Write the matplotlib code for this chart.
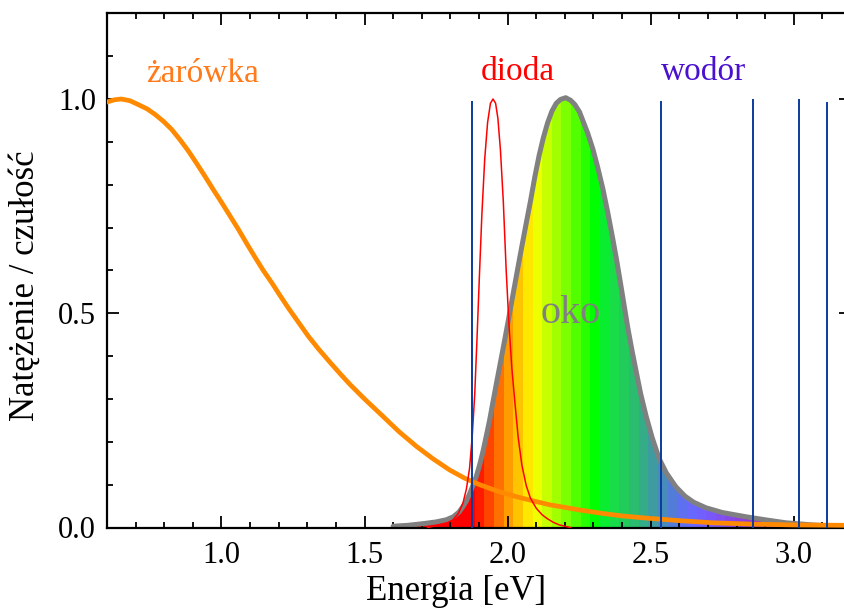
import numpy as np
import matplotlib.pyplot as plt
from matplotlib.patches import Polygon
from matplotlib.colors import ListedColormap
from matplotlib.ticker import MultipleLocator

plt.rcParams['font.family'] = 'Liberation Serif'

# żarówka (incandescent bulb) spectrum
bulb_E = [0.60, 0.625, 0.65, 0.68, 0.709, 0.74, 0.768, 0.797, 0.826, 0.855,
          0.884, 0.913, 0.942, 0.971, 1.001, 1.030, 1.059, 1.088, 1.117, 1.146,
          1.176, 1.205, 1.234, 1.270, 1.304, 1.340, 1.38, 1.42, 1.449, 1.50,
          1.565, 1.62, 1.682, 1.74, 1.798, 1.85, 1.902, 1.96, 2.030, 2.09,
          2.147, 2.20, 2.251, 2.33, 2.40, 2.484, 2.60, 2.716, 2.85, 3.00, 3.20]
bulb_I = [0.993, 0.998, 1.0, 0.996, 0.987, 0.977, 0.964, 0.948, 0.929, 0.905,
          0.879, 0.850, 0.820, 0.789, 0.758, 0.727, 0.696, 0.663, 0.631, 0.600,
          0.571, 0.541, 0.512, 0.478, 0.446, 0.416, 0.385, 0.355, 0.334, 0.300,
          0.259, 0.224, 0.189, 0.160, 0.134, 0.115, 0.100, 0.086, 0.072, 0.062,
          0.053, 0.047, 0.041, 0.033, 0.027, 0.022, 0.016, 0.011, 0.008, 0.006, 0.005]

# dioda (LED) spectrum
led_E = [1.72, 1.763, 1.79, 1.809, 1.828, 1.844, 1.856, 1.867, 1.876, 1.885,
         1.893, 1.901, 1.910, 1.920, 1.930, 1.940, 1.949, 1.958, 1.966, 1.975,
         1.985, 1.995, 2.005, 2.015, 2.025, 2.037, 2.050, 2.065, 2.080, 2.100,
         2.120, 2.140, 2.160, 2.181, 2.22]
led_I = [0.0, 0.006, 0.011, 0.018, 0.033, 0.057, 0.090, 0.138, 0.21, 0.31,
         0.44, 0.58, 0.73, 0.86, 0.945, 0.99, 1.0, 0.99, 0.955, 0.88,
         0.76, 0.60, 0.47, 0.37, 0.295, 0.21, 0.145, 0.098, 0.068, 0.045,
         0.030, 0.020, 0.012, 0.006, 0.0]

# oko (eye sensitivity)
eye_E = [1.60, 1.65, 1.705, 1.75, 1.786, 1.81, 1.83, 1.844, 1.856, 1.868,
         1.880, 1.891, 1.903, 1.914, 1.925, 1.937, 1.948, 1.960, 1.972, 1.984,
         1.996, 2.007, 2.020, 2.035, 2.050, 2.065, 2.080, 2.095, 2.110, 2.125,
         2.140, 2.155, 2.170, 2.185, 2.203, 2.220, 2.235, 2.251, 2.265, 2.280,
         2.298, 2.315, 2.333, 2.350, 2.368, 2.382, 2.395, 2.408, 2.420, 2.435,
         2.449, 2.465, 2.484, 2.505, 2.530, 2.555, 2.588, 2.62, 2.65, 2.693,
         2.75, 2.833, 2.90, 2.972, 3.065, 3.15]
eye_S = [0.003, 0.005, 0.009, 0.013, 0.018, 0.025, 0.036, 0.049, 0.062, 0.080,
         0.100, 0.120, 0.148, 0.178, 0.212, 0.250, 0.290, 0.333, 0.375, 0.417,
         0.460, 0.500, 0.548, 0.603, 0.657, 0.710, 0.762, 0.818, 0.868, 0.910,
         0.945, 0.972, 0.990, 0.999, 1.003, 0.997, 0.987, 0.970, 0.946, 0.920,
         0.883, 0.840, 0.790, 0.735, 0.672, 0.620, 0.568, 0.515, 0.466, 0.412,
         0.365, 0.312, 0.260, 0.210, 0.160, 0.127, 0.095, 0.073, 0.059, 0.046,
         0.035, 0.025, 0.018, 0.011, 0.006, 0.003]

# wodór (hydrogen Balmer lines)
h_E = [1.877, 2.535, 2.856, 3.020, 3.116]
h_top = [0.995, 0.995, 1.0, 1.0, 0.993]

# spectral colour bands under the eye curve
band_colors = ['#ff0000', '#ff1a00', '#ff4400', '#ff7000', '#ff9c00', '#ffc400',
               '#ffe800', '#eeff00', '#c8ff00', '#a2ff00', '#7cff00', '#52ff00',
               '#2aff00', '#00ff00', '#0aec30', '#18dc48', '#22cc5a', '#2cbc70',
               '#34ac88', '#3e9ca0', '#488cbc', '#527cd8', '#5e70f0', '#6868ff',
               '#7060ff', '#7858f8', '#8050f0', '#8848e8', '#9040e0', '#9838d8',
               '#a030d0', '#a828c8']

fig = plt.figure(figsize=(8.44, 6.14), dpi=100)
ax = fig.add_axes([107/844, 86.5/614, 744/844, 514.2/614])

# rainbow fill clipped to the eye curve
edges = np.concatenate([[1.55], 1.885 + 0.0337*np.arange(len(band_colors) - 1), [3.25]])
mesh = ax.pcolormesh(edges, [0, 1.1], np.arange(len(band_colors))[None, :],
                     cmap=ListedColormap(band_colors), shading='flat', zorder=1)
poly = Polygon(list(zip(eye_E, eye_S)) + [(eye_E[-1], 0), (eye_E[0], 0)],
               closed=True, facecolor='none', edgecolor='none')
ax.add_patch(poly)
mesh.set_clip_path(poly)

ax.plot(eye_E, eye_S, color='#808080', lw=3.6, zorder=2, solid_capstyle='round',
        solid_joinstyle='round')
ax.plot(bulb_E, bulb_I, color='#ff8a00', lw=3.4, zorder=3, solid_joinstyle='round')
ax.plot(led_E, led_I, color='#ff0000', lw=1.1, zorder=4)
ax.vlines(h_E, 0, h_top, color='#0b3c9e', lw=1.4, zorder=5)

ax.text(0.934, 1.039, 'żarówka', color='#ff7a1a', fontsize=24, ha='center', va='baseline')
ax.text(2.035, 1.045, 'dioda', color='#ff0000', fontsize=24, ha='center', va='baseline')
ax.text(2.686, 1.045, 'wodór', color='#4a10d0', fontsize=24, ha='center', va='baseline')
ax.text(2.222, 0.477, 'oko', color='#808080', fontsize=29, ha='center', va='baseline', zorder=6)

ax.set_xlim(0.6, 3.2)
ax.set_ylim(0, 1.2)
ax.xaxis.set_major_locator(MultipleLocator(0.5))
ax.xaxis.set_minor_locator(MultipleLocator(0.1))
ax.yaxis.set_major_locator(MultipleLocator(0.5))
ax.yaxis.set_minor_locator(MultipleLocator(0.1))
ax.tick_params(which='both', direction='in', top=True, right=True, width=1.3)
ax.tick_params(which='major', length=8.5, labelsize=22)
ax.tick_params(axis='x', which='major', pad=10)
ax.tick_params(axis='y', which='major', pad=8)
ax.tick_params(which='minor', length=4.5)
for s in ax.spines.values():
    s.set_linewidth(1.6)

ax.set_xlabel('Energia [eV]', fontsize=25)
ax.xaxis.set_label_coords(0.469, -0.093)
ax.set_ylabel('Natężenie / czułość', fontsize=25)
ax.yaxis.set_label_coords(-0.088, 0.47)

fig.savefig('out.png', dpi=100)
